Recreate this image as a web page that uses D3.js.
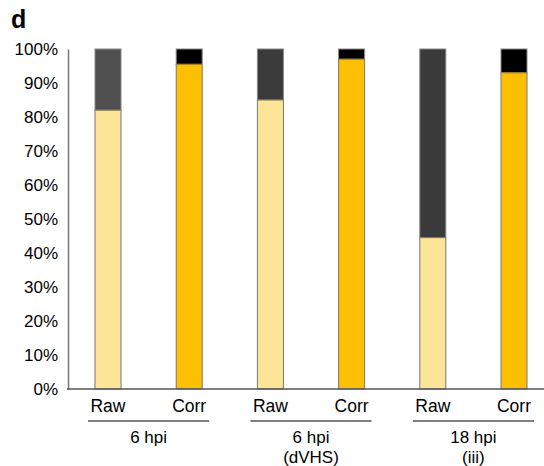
<!DOCTYPE html>
<html>
<head>
<meta charset="utf-8">
<script src="https://cdn.jsdelivr.net/npm/d3@7"></script>
<style>
body{margin:0;background:#fff;}
text{font-family:"Liberation Sans",Arial,sans-serif;fill:#000;}
</style>
</head>
<body>
<svg id="chart" width="544" height="466"></svg>
<script>
// bars, left to right
var bars=['Raw','Corr','Raw','Corr','Raw','Corr'];
var lowerVals=[82,95.5,85,97,44.5,93];
var lowerCols=['#fde597','#fdc000','#fde597','#fdc000','#fde597','#fdc000'];
var upperCols=['#505050','#000','#3b3b3b','#000','#3a3a3a','#000'];
var groups=[['6 hpi'],['6 hpi','(dVHS)'],['18 hpi','(iii)']];
var yTicks=[0,10,20,30,40,50,60,70,80,90,100];

var svg=d3.select('#chart');
var x=d3.scaleLinear().domain([0,5]).range([108,514]);
var y=d3.scaleLinear().domain([0,100]).range([389,49]);
var bw=26;

svg.append('text').attr('x',11).attr('y',28)
  .style('font-size','25px').style('font-weight','bold').text('d');

var yAxis=svg.append('g').attr('transform','translate(68,0)')
  .call(d3.axisLeft(y).tickValues(yTicks).tickSize(0).tickPadding(10).tickFormat(d=>d+'%'));
yAxis.select('.domain').attr('stroke','#777').attr('stroke-width',1.5);
yAxis.selectAll('text').style('font-size','17px').attr('font-family',null);

// stacked bars
bars.forEach(function(b,i){
  svg.append('rect').attr('x',x(i)-bw/2).attr('width',bw)
    .attr('y',y(100)).attr('height',y(lowerVals[i])-y(100))
    .attr('fill',upperCols[i]).attr('stroke','#888').attr('stroke-width',1);
  svg.append('rect').attr('x',x(i)-bw/2).attr('width',bw)
    .attr('y',y(lowerVals[i])).attr('height',y(0)-y(lowerVals[i]))
    .attr('fill',lowerCols[i]).attr('stroke','#777').attr('stroke-width',1);
});

svg.append('line').attr('x1',67).attr('x2',544).attr('y1',y(0)).attr('y2',y(0))
  .attr('stroke','#555').attr('stroke-width',1.5);

svg.selectAll('.blab').data(bars).enter().append('text')
  .attr('x',(d,i)=>x(i)).attr('y',412).attr('text-anchor','middle')
  .style('font-size','17.5px').text(d=>d);

groups.forEach(function(g,k){
  var cx=(x(2*k)+x(2*k+1))/2;
  svg.append('line').attr('x1',x(2*k)-20).attr('x2',x(2*k+1)+20)
    .attr('y1',421).attr('y2',421).attr('stroke','#000').attr('stroke-width',1.2);
  g.forEach(function(t,j){
    svg.append('text').attr('x',cx).attr('y',443+j*20).attr('text-anchor','middle')
      .style('font-size','17px').text(t);
  });
});
</script>
</body>
</html>
